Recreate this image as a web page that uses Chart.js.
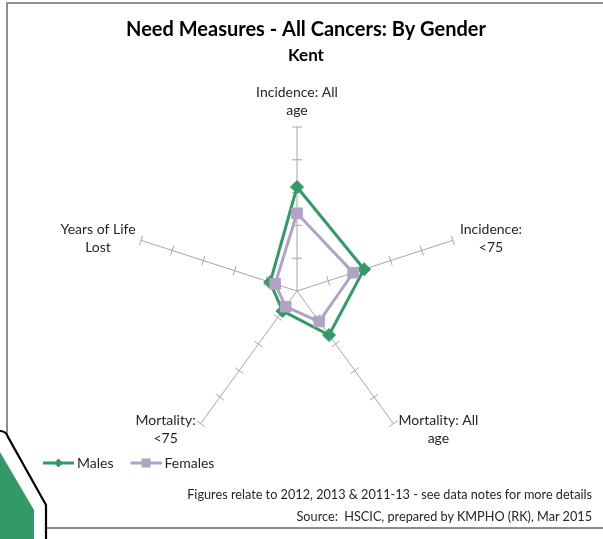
<!DOCTYPE html>
<html>
<head>
<meta charset="utf-8">
<script src="https://cdn.jsdelivr.net/npm/chart.js@4/dist/chart.umd.min.js"></script>
<style>
  html, body { margin: 0; padding: 0; background: #ffffff; }
  #wrap { position: relative; width: 603px; height: 539px; overflow: hidden; font-family: Lato, "Open Sans", sans-serif; }
  #c { position: absolute; left: 0; top: 0; }
  .frame { position: absolute; left: 6px; top: 2px; width: 620px; height: 430px; border-left: 2px solid #8e8e8e; border-top: 2px solid #8e8e8e; }
  .frameBottom { position: absolute; left: 46px; top: 527px; width: 560px; height: 2px; background: #8e8e8e; }
  .foot { position: absolute; right: 11px; font-size: 12.7px; color: #262626; white-space: nowrap; line-height: 15px; }
  #deco { position: absolute; left: 0; top: 0; pointer-events: none; }
</style>
</head>
<body>
<div id="wrap">
  <div class="frame"></div>
  <div class="frameBottom"></div>
  <canvas id="c" width="603" height="539"></canvas>
  <div class="foot" style="top:487px">Figures relate to 2012, 2013 &amp; 2011-13 - see data notes for more details</div>
  <div class="foot" style="top:509px">Source:&nbsp; HSCIC, prepared by KMPHO (RK), Mar 2015</div>
  <svg id="deco" width="603" height="539">
    <path d="M0,452 L34,510 L34,539 L0,539 Z" fill="#339966"/>
    <path d="M0,431 Q6,431 8,437 L46,505 L46,539" fill="none" stroke="#000" stroke-width="2.2"/>
  </svg>
</div>
<script>
// ---- data ----
const axisLabels = [
  ["Incidence: All", "age"],
  ["Incidence:", "<75"],
  ["Mortality: All", "age"],
  ["Mortality:", "<75"],
  ["Years of Life", "Lost"]
];
const seriesNames = ["Males", "Females"];
const malesValues = [3.17, 2.15, 1.66, 0.75, 0.86];
const femalesValues = [2.37, 1.80, 1.15, 0.59, 0.70];
const tickValues = [1, 2, 3, 4, 5];
const titleText = "Need Measures - All Cancers: By Gender";
const subtitleText = "Kent";

// ---- styles ----
const FONT = "Lato, 'Open Sans', sans-serif";
const TEXT = "#262626";
const GREEN = "#339966";
const LILAC = "#b3a2c7";
const AXIS_GREY = "#a6a6a6";
// label block centre offsets from each axis end (px)
const labelOffsets = [[0, -26], [38, -2], [45, 6], [-35, 6], [-43, -2]];

function legendIcon(color, style) {
  const c = document.createElement('canvas');
  c.width = 52; c.height = 14;
  const g = c.getContext('2d');
  g.strokeStyle = color; g.lineWidth = 3;
  g.beginPath(); g.moveTo(21, 7); g.lineTo(52, 7); g.stroke();
  g.fillStyle = color;
  const cx = 36.5, cy = 7;
  if (style === 'rectRot') {
    g.beginPath(); g.moveTo(cx, cy - 4.5); g.lineTo(cx + 4.5, cy); g.lineTo(cx, cy + 4.5); g.lineTo(cx - 4.5, cy); g.closePath(); g.fill();
  } else {
    g.fillRect(cx - 4.5, cy - 4.5, 9, 9);
  }
  return c;
}

// keeps the plot slightly left of the title centre, as in the original
const rightSpacer = {
  id: 'rightSpacer',
  beforeInit(chart) {
    Chart.layouts.addBox(chart, {
      position: 'right', weight: 0, fullSize: false, options: {},
      width: 18, height: 0,
      isHorizontal() { return false; },
      update(maxWidth, maxHeight) { this.width = 18; this.height = maxHeight; },
      draw() {}
    });
  }
};

const tickMarks = {
  id: 'tickMarks',
  beforeDatasetsDraw(chart) {
    const s = chart.scales.r, ctx = chart.ctx;
    ctx.save();
    ctx.strokeStyle = AXIS_GREY; ctx.lineWidth = 1;
    for (let i = 0; i < axisLabels.length; i++) {
      const a = s.getIndexAngle(i) - Math.PI / 2;
      const px = -Math.sin(a), py = Math.cos(a);
      tickValues.forEach(v => {
        const p = s.getPointPosition(i, s.getDistanceFromCenterForValue(v));
        ctx.beginPath();
        ctx.moveTo(p.x - px * 5, p.y - py * 5);
        ctx.lineTo(p.x + px * 5, p.y + py * 5);
        ctx.stroke();
      });
    }
    ctx.restore();
  }
};

const axisText = {
  id: 'axisText',
  afterDraw(chart) {
    const s = chart.scales.r, ctx = chart.ctx;
    ctx.save();
    ctx.font = "14px " + FONT;
    ctx.fillStyle = TEXT;
    ctx.textAlign = 'center';
    ctx.textBaseline = 'middle';
    chart.data.labels.forEach((lines, i) => {
      const p = s.getPointPosition(i, s.getDistanceFromCenterForValue(s.max));
      const cx = p.x + labelOffsets[i][0], cy = p.y + labelOffsets[i][1];
      lines.forEach((t, j) => ctx.fillText(t, cx, cy + (j - (lines.length - 1) / 2) * 18));
    });
    ctx.restore();
  }
};

const styles = ['rectRot', 'rect'];
const colors = [GREEN, LILAC];

new Chart(document.getElementById('c'), {
  type: 'radar',
  data: {
    labels: axisLabels,
    datasets: [
      { label: seriesNames[0], data: malesValues, borderColor: GREEN, backgroundColor: GREEN, fill: false,
        borderWidth: 3, pointStyle: 'rectRot', pointRadius: 6.5, pointBackgroundColor: GREEN, pointBorderColor: GREEN, pointBorderWidth: 1, order: 1 },
      { label: seriesNames[1], data: femalesValues, borderColor: LILAC, backgroundColor: LILAC, fill: false,
        borderWidth: 3, pointStyle: 'rect', pointRadius: 7.5, pointBackgroundColor: LILAC, pointBorderColor: LILAC, pointBorderWidth: 1, order: 0 }
    ]
  },
  options: {
    responsive: false,
    animation: false,
    devicePixelRatio: 1,
    events: [],
    layout: { padding: { left: 26, right: 17, top: 0, bottom: 59 } },
    scales: {
      r: {
        min: 0, max: 5,
        ticks: { display: false, stepSize: 1 },
        grid: { display: false },
        angleLines: { display: true, color: AXIS_GREY, lineWidth: 1 },
        pointLabels: { display: false }
      }
    },
    plugins: {
      title: { display: true, text: titleText, color: '#000', font: { family: FONT, size: 20, weight: 'bold' }, padding: { top: 18, bottom: 3 } },
      subtitle: { display: true, text: subtitleText, color: '#000', font: { family: FONT, size: 17, weight: 'bold' }, padding: { top: 0, bottom: 61 } },
      legend: {
        display: true, position: 'bottom', align: 'start',
        labels: {
          usePointStyle: true, pointStyleWidth: 44, padding: 0,
          font: { family: FONT, size: 14 }, color: TEXT,
          generateLabels(chart) {
            return chart.data.datasets.map((ds, i) => ({
              text: ds.label, pointStyle: legendIcon(colors[i], styles[i]),
              fillStyle: colors[i], strokeStyle: colors[i], lineWidth: 0,
              hidden: !chart.isDatasetVisible(i), datasetIndex: i, fontColor: TEXT
            }));
          }
        }
      },
      tooltip: { enabled: false }
    }
  },
  plugins: [rightSpacer, tickMarks, axisText]
});
</script>
</body>
</html>
